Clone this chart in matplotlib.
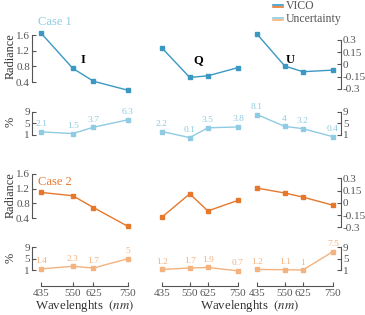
import numpy as np
import matplotlib
matplotlib.use("Agg")
import matplotlib.pyplot as plt
from matplotlib.lines import Line2D

plt.rcParams['font.family'] = ['Liberation Serif', 'DejaVu Serif']
plt.rcParams['mathtext.fontset'] = 'stix'

# ---------------- data ----------------
wavelengths = [435, 550, 625, 750]
wl_labels = ["435", "550", "625", "750"]

case1_I = [1.65, 0.75, 0.42, 0.19]
case1_Q = [0.20, -0.16, -0.14, -0.04]
case1_U = [0.37, -0.02, -0.09, -0.07]
case1_unc_I = [2.1, 1.5, 3.7, 6.3]
case1_unc_Q = [2.2, 0.1, 3.5, 3.8]
case1_unc_U = [8.1, 4, 3.2, 0.4]

case2_I = [1.10, 1.01, 0.69, 0.18]
case2_Q = [-0.175, 0.11, -0.10, 0.03]
case2_U = [0.18, 0.12, 0.07, -0.03]
case2_unc_I = [1.4, 2.3, 1.7, 5]
case2_unc_Q = [1.2, 1.7, 1.9, 0.7]
case2_unc_U = [1.2, 1.1, 1, 7.5]

BLUE = "#3b98c3"
LBLUE = "#8fcbe2"
ORANGE = "#e5782c"
LORANGE = "#f3b27e"
GRAY = "#555555"

W, H = 365, 315
fig = plt.figure(figsize=(W / 100, H / 100), dpi=100)


def px_axes(x0, y0, x1, y1):
    return fig.add_axes([x0 / W, 1 - y1 / H, (x1 - x0) / W, (y1 - y0) / H])


def px2pt(p):
    return p * 0.72


def style(ax):
    for s in ax.spines.values():
        s.set_visible(False)
        s.set_color(GRAY)
        s.set_linewidth(0.8)
    ax.tick_params(direction='in', length=px2pt(4), width=0.8, color=GRAY,
                   labelcolor=GRAY, labelsize=8, pad=1.5)
    ax.set_xticks([])
    ax.set_yticks([])
    ax.set_facecolor('none')
    ax.set_xlim(435, 750)


cols = [(41, 128), (162, 238), (257, 333)]
rows = {
    'r1': (30, 93), 'u1': (105, 140),
    'r2': (168, 230), 'u2': (240, 275),
}
ylims_I = {'r1': (0.12, 1.728), 'r2': (0.083, 1.76)}
ylims_QU = {'r1': (-0.35, 0.42), 'r2': (-0.333, 0.426)}
ylims_unc = {'u1': (-0.74, 11.43), 'u2': (-0.76, 11.57)}

cases = [
    ('r1', 'u1', [case1_I, case1_Q, case1_U],
     [case1_unc_I, case1_unc_Q, case1_unc_U], BLUE, LBLUE),
    ('r2', 'u2', [case2_I, case2_Q, case2_U],
     [case2_unc_I, case2_unc_Q, case2_unc_U], ORANGE, LORANGE),
]

for rkey, ukey, rad, unc, c_main, c_light in cases:
    for j, (x0, x1) in enumerate(cols):
        # radiance
        ax = px_axes(x0, rows[rkey][0], x1, rows[rkey][1])
        style(ax)
        ax.plot(wavelengths, rad[j], color=c_main, lw=1.0, marker='s',
                ms=3, clip_on=False)
        if j == 0:
            ax.set_ylim(*ylims_I[rkey])
            ax.spines['left'].set_visible(True)
            ax.spines['left'].set_position(('outward', px2pt(9)))
            ax.spines['left'].set_bounds(0.4, 1.6)
            ax.set_yticks([0.4, 0.8, 1.2, 1.6])
            ax.set_yticklabels(["0.4", "0.8", "1.2", "1.6"])
        else:
            ax.set_ylim(*ylims_QU[rkey])
            if j == 2:
                ax.spines['right'].set_visible(True)
                ax.spines['right'].set_position(('outward', px2pt(8)))
                ax.spines['right'].set_bounds(-0.3, 0.3)
                ax.yaxis.tick_right()
                ax.set_yticks([-0.3, -0.15, 0, 0.15, 0.3])
                ax.set_yticklabels(["-0.3", "-0.15", "0", "0.15", "0.3"])

        # uncertainty
        ax2 = px_axes(x0, rows[ukey][0], x1, rows[ukey][1])
        style(ax2)
        ax2.set_ylim(*ylims_unc[ukey])
        ax2.plot(wavelengths, unc[j], color=c_light, lw=1.0, marker='s',
                 ms=3, clip_on=False)
        for xv, yv in zip(wavelengths, unc[j]):
            ax2.annotate(f"{yv:g}", (xv, yv), xytext=(0, 2.5),
                         textcoords='offset points', ha='center', va='bottom',
                         fontsize=6.8, color=c_light, annotation_clip=False)
        if j == 0:
            ax2.spines['left'].set_visible(True)
            ax2.spines['left'].set_position(('outward', px2pt(9)))
            ax2.spines['left'].set_bounds(1, 9)
            ax2.set_yticks([1, 5, 9])
        elif j == 2:
            ax2.spines['right'].set_visible(True)
            ax2.spines['right'].set_position(('outward', px2pt(8)))
            ax2.spines['right'].set_bounds(1, 9)
            ax2.yaxis.tick_right()
            ax2.set_yticks([1, 5, 9])
        if ukey == 'u2':
            ax2.spines['bottom'].set_visible(True)
            ax2.spines['bottom'].set_position(('outward', px2pt(10.7)))
            ax2.set_xticks(wavelengths)
            ax2.set_xticklabels(wl_labels)
            ax2.tick_params(axis='x', pad=2.5)

# y labels
for yc, txt in [(56, "Radiance"), (122, "%"), (195, "Radiance"), (258, "%")]:
    fig.text(11 / W, 1 - yc / H, txt, rotation=90, ha='center', va='center',
             fontsize=8.8, color='#333333')

# x labels
for xc in [85, 250]:
    fig.text(xc / W, 1 - 306 / H, r"Wavelenghts  $(nm)$", ha='center',
             va='center', fontsize=9.3, color='#333333')

# stokes titles
for xc, t in [(83, "I"), (198, "Q"), (290, "U")]:
    fig.text(xc / W, 1 - 60 / H, t, ha='center', va='center', fontsize=9,
             fontweight='bold', color='black')

fig.text(38 / W, 1 - 22 / H, "Case 1", ha='left', va='center', fontsize=9,
         color=LBLUE)
fig.text(38 / W, 1 - 182 / H, "Case 2", ha='left', va='center', fontsize=9,
         color=ORANGE)

# legend
for yy, ca, cb, txt in [(6, BLUE, ORANGE, "VICO"),
                        (19, LBLUE, LORANGE, "Uncertainty")]:
    fig.add_artist(Line2D([273 / W, 283 / W], [1 - (yy - 1.2) / H] * 2,
                          color=ca, lw=1.2, transform=fig.transFigure))
    fig.add_artist(Line2D([273 / W, 283 / W], [1 - (yy + 1.2) / H] * 2,
                          color=cb, lw=1.2, transform=fig.transFigure))
    fig.text(286 / W, 1 - yy / H, txt, ha='left', va='center', fontsize=8.5,
             color=GRAY)

fig.savefig("out.png", dpi=100)
